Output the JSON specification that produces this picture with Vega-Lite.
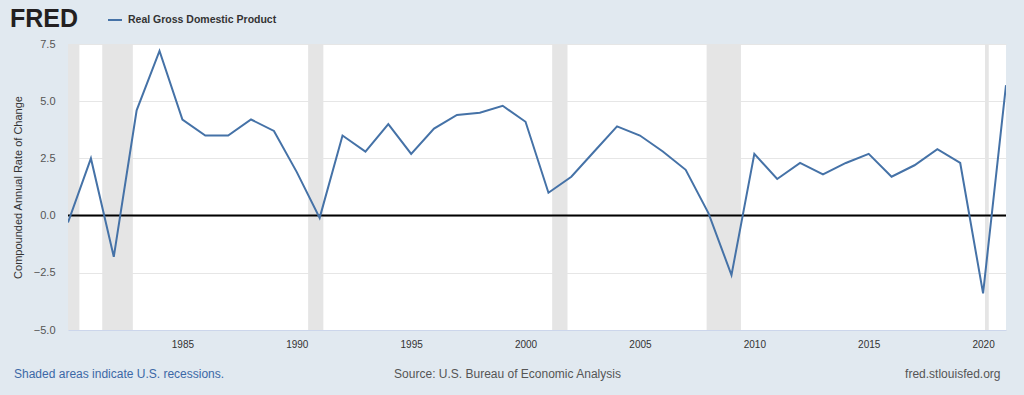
{
  "$schema": "https://vega.github.io/schema/vega-lite/v6.json",
  "width": 938,
  "height": 286,
  "autosize": {"type": "none"},
  "padding": {"left": 68, "top": 44, "right": 18, "bottom": 65},
  "background": "#e1e9f0",
  "view": {"fill": "white", "stroke": null},
  "config": {"font": "Liberation Sans"},
  "title": {
    "text": "Shaded areas indicate U.S. recessions.",
    "orient": "bottom",
    "anchor": "start",
    "frame": "group",
    "dx": -54,
    "dy": -14,
    "fontSize": 12,
    "fontWeight": "normal",
    "color": "#3c68a6",
    "font": "Liberation Sans"
  },
  "datasets": {
    "gdp": [
      {"date": "1980-01-01", "value": -0.3},
      {"date": "1981-01-01", "value": 2.5},
      {"date": "1982-01-01", "value": -1.8},
      {"date": "1983-01-01", "value": 4.6},
      {"date": "1984-01-01", "value": 7.2},
      {"date": "1985-01-01", "value": 4.2},
      {"date": "1986-01-01", "value": 3.5},
      {"date": "1987-01-01", "value": 3.5},
      {"date": "1988-01-01", "value": 4.2},
      {"date": "1989-01-01", "value": 3.7},
      {"date": "1990-01-01", "value": 1.9},
      {"date": "1991-01-01", "value": -0.1},
      {"date": "1992-01-01", "value": 3.5},
      {"date": "1993-01-01", "value": 2.8},
      {"date": "1994-01-01", "value": 4.0},
      {"date": "1995-01-01", "value": 2.7},
      {"date": "1996-01-01", "value": 3.8},
      {"date": "1997-01-01", "value": 4.4},
      {"date": "1998-01-01", "value": 4.5},
      {"date": "1999-01-01", "value": 4.8},
      {"date": "2000-01-01", "value": 4.1},
      {"date": "2001-01-01", "value": 1.0},
      {"date": "2002-01-01", "value": 1.7},
      {"date": "2003-01-01", "value": 2.8},
      {"date": "2004-01-01", "value": 3.9},
      {"date": "2005-01-01", "value": 3.5},
      {"date": "2006-01-01", "value": 2.8},
      {"date": "2007-01-01", "value": 2.0},
      {"date": "2008-01-01", "value": 0.1},
      {"date": "2009-01-01", "value": -2.6},
      {"date": "2010-01-01", "value": 2.7},
      {"date": "2011-01-01", "value": 1.6},
      {"date": "2012-01-01", "value": 2.3},
      {"date": "2013-01-01", "value": 1.8},
      {"date": "2014-01-01", "value": 2.3},
      {"date": "2015-01-01", "value": 2.7},
      {"date": "2016-01-01", "value": 1.7},
      {"date": "2017-01-01", "value": 2.2},
      {"date": "2018-01-01", "value": 2.9},
      {"date": "2019-01-01", "value": 2.3},
      {"date": "2020-01-01", "value": -3.4},
      {"date": "2021-01-01", "value": 5.7}
    ],
    "recessions": [
      {"start": "1980-01-01", "end": "1980-07-01"},
      {"start": "1981-07-01", "end": "1982-11-01"},
      {"start": "1990-07-01", "end": "1991-03-01"},
      {"start": "2001-03-01", "end": "2001-11-01"},
      {"start": "2007-12-01", "end": "2009-06-01"},
      {"start": "2020-02-01", "end": "2020-04-01"}
    ]
  },
  "resolve": {"scale": {"y": "independent"}},
  "layer": [
    {
      "data": {"name": "recessions"},
      "mark": {"type": "rect", "color": "#e5e5e5"},
      "encoding": {
        "x": {"field": "start", "type": "temporal"},
        "x2": {"field": "end"}
      }
    },
    {
      "data": {"values": [{}]},
      "mark": {"type": "rule", "color": "black", "strokeWidth": 2},
      "encoding": {
        "y": {
          "datum": 0,
          "scale": {"domain": [-5, 7.5], "nice": false, "zero": false},
          "axis": {
            "orient": "right",
            "labels": false,
            "ticks": false,
            "domain": false,
            "grid": false,
            "title": "fred.stlouisfed.org",
            "titleAngle": 0,
            "titleFontSize": 12,
            "titleFontWeight": "normal",
            "titleColor": "#555555",
            "titleX": -6,
            "titleY": 329,
            "titleAlign": "right",
            "titleBaseline": "middle"
          }
        }
      }
    },
    {
      "data": {"name": "gdp"},
      "mark": {"type": "line", "strokeWidth": 2, "clip": true},
      "encoding": {
        "x": {
          "field": "date",
          "type": "temporal",
          "scale": {"type": "utc", "domain": [{"year": 1980, "month": 1, "date": 1, "utc": true}, {"year": 2021, "month": 1, "date": 1, "utc": true}]},
          "axis": {
            "format": "%Y",
            "values": [
              {"year": 1985, "month": 1, "date": 1, "utc": true},
              {"year": 1990, "month": 1, "date": 1, "utc": true},
              {"year": 1995, "month": 1, "date": 1, "utc": true},
              {"year": 2000, "month": 1, "date": 1, "utc": true},
              {"year": 2005, "month": 1, "date": 1, "utc": true},
              {"year": 2010, "month": 1, "date": 1, "utc": true},
              {"year": 2015, "month": 1, "date": 1, "utc": true},
              {"year": 2020, "month": 1, "date": 1, "utc": true}
            ],
            "grid": false,
            "ticks": false,
            "domain": true,
            "domainColor": "#ccd6eb",
            "labelFontSize": 10,
            "labelColor": "#333333",
            "labelPadding": 9,
            "title": "Source: U.S. Bureau of Economic Analysis",
            "titleFontSize": 12,
            "titleFontWeight": "normal",
            "titleColor": "#555555",
            "titleX": 439,
            "titleY": 43,
            "titleBaseline": "middle",
            "titleAlign": "center"
          }
        },
        "y": {
          "field": "value",
          "type": "quantitative",
          "scale": {"domain": [-5, 7.5], "nice": false, "zero": false},
          "axis": {
            "values": [-5, -2.5, 0, 2.5, 5, 7.5],
            "format": ".1f",
            "grid": true,
            "gridColor": "#e6e6e6",
            "ticks": false,
            "domain": false,
            "labelFontSize": 11,
            "labelColor": "#555555",
            "labelPadding": 13,
            "title": "Compounded Annual Rate of Change",
            "titleFontSize": 11,
            "titleFontWeight": "normal",
            "titleColor": "#333333",
            "titleX": -50,
            "titleY": 143,
            "titleAlign": "center",
            "titleBaseline": "middle"
          }
        },
        "color": {
          "datum": "Real Gross Domestic Product",
          "scale": {"range": ["#4572a7"]},
          "legend": {
            "title": "FRED",
            "orient": "none",
            "legendX": -58,
            "legendY": -32,
            "direction": "horizontal",
            "titleOrient": "left",
            "titleFontSize": 25,
            "titleFontWeight": "bold",
            "titleColor": "#231f20",
            "titlePadding": 28,
            "symbolType": "stroke",
            "symbolStrokeWidth": 2,
            "symbolSize": 196,
            "labelFontSize": 10.5,
            "labelFontWeight": "bold",
            "labelColor": "#333333",
            "labelOffset": 5
          }
        }
      }
    }
  ]
}
